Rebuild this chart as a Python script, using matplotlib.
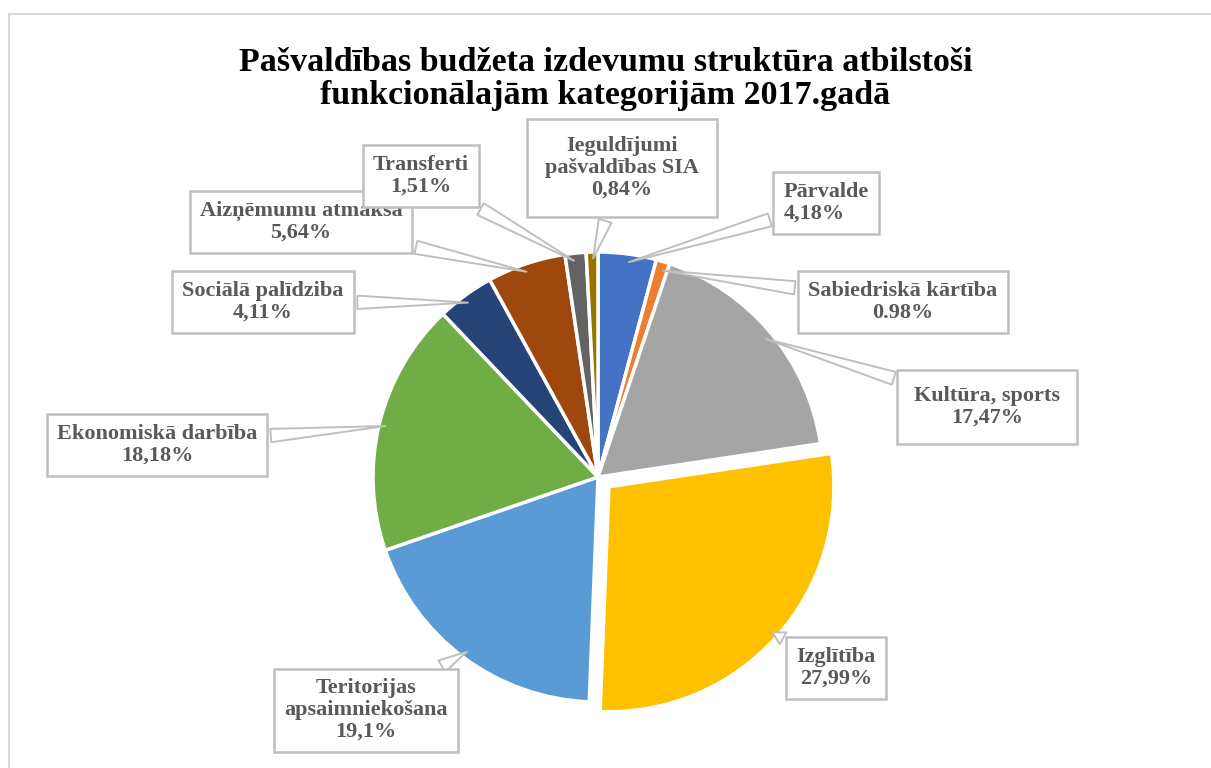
import numpy as np
import matplotlib.pyplot as plt
from matplotlib.lines import Line2D

# dati
kategorijas = ["Pārvalde", "Sabiedriskā kārtība", "Kultūra, sports", "Izglītība",
               "Teritorijas\napsaimniekošana", "Ekonomiskā darbība", "Sociālā palīdziba",
               "Aizņēmumu atmaksa", "Transferti", "Ieguldījumi\npašvaldības SIA"]
procenti = [4.18, 0.98, 17.47, 27.99, 19.1, 18.18, 4.11, 5.64, 1.51, 0.84]
procentu_teksts = ["4,18%", "0.98%", "17,47%", "27,99%", "19,1%", "18,18%",
                   "4,11%", "5,64%", "1,51%", "0,84%"]
krasas = ["#4472C4", "#ED7D31", "#A5A5A5", "#FFC000", "#5B9BD5",
          "#70AD47", "#264478", "#9E480E", "#636363", "#997300"]
izvirzits = [0, 0, 0, 1, 0, 0, 0, 0, 0, 0]

# etiķešu kastu centri (pikseļos no augšas), izlīdzinājums, atstarpe
kastes = [(826, 203, "left", 0.45), (903, 302, "center", 0.45),
          (987, 407, "center", 0.75), (836, 668, "center", 0.45),
          (366, 710, "center", 0.45), (157, 445, "center", 0.45),
          (263, 302, "center", 0.45), (301, 222, "center", 0.45),
          (421, 176, "center", 0.45), (622, 168, "center", 0.8)]

W, H = 1211, 768
fig = plt.figure(figsize=(W / 100, H / 100), dpi=100)
ax = fig.add_axes([0, 0, 1, 1])

cx, cy, r = 598, H - 477, 225
wedges, _ = ax.pie(procenti, colors=krasas, startangle=90, counterclock=False,
                   explode=[e * 0.065 * r for e in izvirzits],
                   center=(cx, cy), radius=r,
                   wedgeprops=dict(edgecolor="white", linewidth=2.5))
ax.set_aspect("auto")
ax.set_xlim(0, W)
ax.set_ylim(0, H)
ax.axis("off")

serif = ["Liberation Serif", "DejaVu Serif"]

# etiķetes ar norādēm
for w, nos, pr, (bx, by, ha, pad) in zip(wedges, kategorijas, procentu_teksts, kastes):
    th = np.deg2rad((w.theta1 + w.theta2) / 2)
    wx, wy = w.center
    px = wx + r * 0.96 * np.cos(th)
    py = wy + r * 0.96 * np.sin(th)
    ax.annotate(nos + "\n" + pr, xy=(px, py), xytext=(bx, H - by),
                ha="center", va="center", multialignment=ha,
                fontsize=16, fontweight="bold", color="#595959",
                family=serif, linespacing=1.1,
                bbox=dict(boxstyle=f"square,pad={pad}", fc="white", ec="#BFBFBF", lw=1.8),
                arrowprops=dict(arrowstyle="wedge,tail_width=0.6,shrink_factor=0.5",
                                fc="white", ec="#BFBFBF", lw=1.4))

fig.text(0.5, 1 - 79 / H, "Pašvaldības budžeta izdevumu struktūra atbilstoši\n"
         "funkcionālajām kategorijām 2017.gadā",
         ha="center", va="center", fontsize=24.5, fontweight="bold", color="black",
         family=serif, linespacing=1.05)

# rāmis
fig.add_artist(Line2D([9 / W, 1], [1 - 14 / H, 1 - 14 / H], color="#D9D9D9", lw=1.5))
fig.add_artist(Line2D([9 / W, 9 / W], [0, 1 - 14 / H], color="#D9D9D9", lw=1.5))

fig.savefig("out.png", dpi=100, facecolor="white")
